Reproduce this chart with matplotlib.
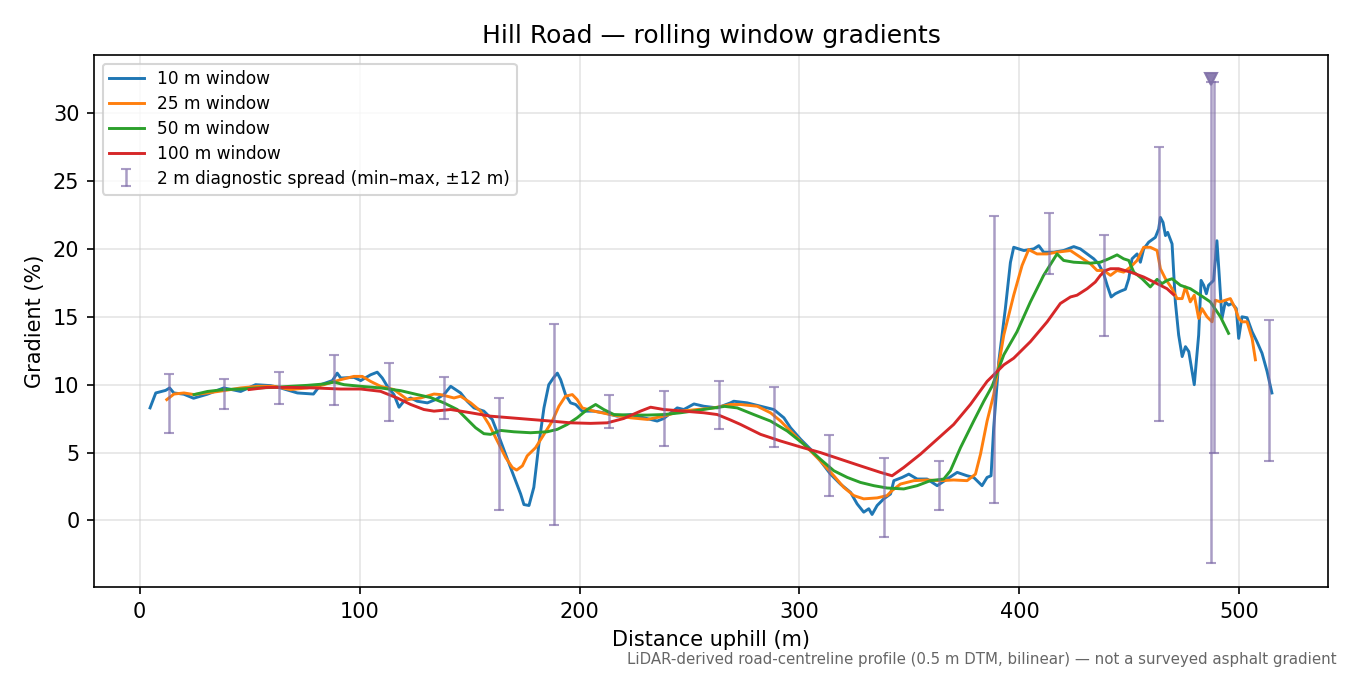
import numpy as np
import matplotlib
matplotlib.use("Agg")
import matplotlib.pyplot as plt

# 10 m window
w10_x = [4.7, 7.3, 11.8, 13.6, 15.5, 20.0, 24.5, 30.8, 38.2, 45.9, 52.7, 59.5, 64.0, 71.7, 79.0,
         82.3, 87.6, 89.8, 91.4, 97.4, 100.5, 105.0, 108.0, 110.3, 112.6, 115.6, 117.9, 120.1,
         123.2, 126.2, 130.8, 134.5, 138.3, 141.4, 145.9, 148.9, 152.0, 156.5, 160.3, 164.1,
         168.6, 173.2, 174.7, 177.0, 179.2, 181.5, 183.8, 186.0, 188.3, 189.9, 191.4, 193.6,
         195.9, 198.2, 201.2, 206.5, 211.0, 217.1, 223.2, 229.2, 235.3, 238.3, 244.4, 247.4,
         252.0, 256.5, 262.6, 268.6, 270.1, 276.2, 282.3, 288.3, 292.9, 295.9, 300.5, 305.0,
         309.5, 314.1, 318.6, 323.2, 326.2, 329.2, 331.5, 333.0, 335.3, 338.3, 341.4, 342.9,
         346.7, 349.7, 353.5, 358.0, 362.6, 367.1, 371.7, 376.2, 379.2, 383.0, 385.3, 387.1,
         388.3, 390.6, 393.6, 395.9, 397.4, 402.0, 406.5, 408.8, 411.0, 415.6, 420.1, 424.7,
         427.7, 430.8, 433.8, 436.0, 438.3, 439.9, 441.7, 443.6, 445.9, 448.2, 449.7, 451.2,
         453.5, 455.0, 456.5, 458.8, 461.8, 463.3, 464.1, 465.3, 466.4, 467.4, 469.4, 470.9,
         472.4, 474.0, 475.5, 477.0, 479.5, 481.5, 482.6, 483.8, 485.0, 486.0, 488.3, 489.8,
         491.0, 492.1, 493.6, 495.1, 496.7, 498.6, 499.7, 501.2, 503.5, 505.8, 508.0, 510.3,
         512.6, 514.8]
w10_y = [8.29, 9.39, 9.58, 9.76, 9.39, 9.3, 9.0, 9.3, 9.76, 9.5, 10.0, 9.93, 9.76, 9.39, 9.31,
         10.0, 10.3, 10.85, 10.49, 10.54, 10.3, 10.73, 10.92, 10.49, 9.88, 9.27, 8.34, 8.78,
         9.02, 8.78, 8.66, 8.9, 9.27, 9.88, 9.39, 8.78, 8.29, 8.05, 7.44, 5.85,
         3.9, 1.95, 1.17, 1.1, 2.44, 5.61, 8.29, 10.0, 10.54, 10.85, 10.37, 9.27,
         8.66, 8.54, 8.05, 8.05, 7.93, 7.68, 7.8, 7.56, 7.32, 7.51, 8.29, 8.17,
         8.58, 8.41, 8.29, 8.66, 8.78, 8.66, 8.41, 8.17, 7.56, 6.83, 5.98, 5.25,
         4.39, 3.41, 2.68, 2.07, 1.22, 0.61, 0.86, 0.44, 1.1, 1.59, 1.95, 2.93,
         3.17, 3.41, 3.05, 3.05, 2.56, 3.05, 3.54, 3.29, 3.17, 2.56, 3.17, 3.29,
         6.83, 11.7, 15.6, 19.0, 20.12, 19.88, 20.0, 20.24, 19.76, 19.76, 19.88, 20.17,
         20.0, 19.63, 19.27, 18.9, 18.17, 17.32, 16.46, 16.7, 16.88, 17.03, 17.8, 19.27,
         19.63, 19.02, 20.0, 20.5, 20.85, 21.46, 22.32, 21.95, 20.98, 21.22, 20.37, 16.1,
         13.66, 12.07, 12.8, 12.44, 10.0, 13.66, 17.68, 17.32, 16.7, 17.32, 17.68, 20.6,
         17.68, 14.88, 16.1, 15.86, 15.98, 15.61, 13.41, 15.0, 14.93, 13.9, 13.17, 12.32,
         10.98, 9.39]

# 25 m window
w25_x = [12.3, 15.6, 20.1, 24.7, 30.8, 38.3, 45.9, 53.5, 61.0, 68.6, 76.2, 83.8, 91.4, 97.4,
         101.2, 105.0, 109.5, 115.6, 121.7, 127.7, 133.8, 136.8, 142.9, 145.9, 150.5, 155.0,
         158.8, 162.6, 166.4, 169.4, 171.4, 174.0, 176.2, 180.0, 183.8, 187.6, 190.6, 193.6,
         196.7, 198.9, 201.2, 206.5, 214.1, 223.2, 230.8, 238.3, 245.9, 253.5, 261.0, 268.6,
         273.2, 280.8, 286.8, 291.4, 297.4, 303.5, 309.5, 315.6, 320.1, 324.7, 329.2, 335.3,
         339.8, 342.1, 345.9, 352.0, 358.0, 364.1, 370.1, 376.2, 380.0, 382.3, 385.3, 388.3,
         392.9, 397.4, 401.2, 404.2, 408.0, 412.6, 417.1, 423.2, 427.7, 432.3, 435.3, 438.3,
         441.4, 444.4, 447.4, 450.5, 453.5, 456.5, 459.5, 462.6, 464.1, 466.4, 469.4, 471.7,
         474.0, 475.5, 477.7, 479.5, 481.5, 483.0, 485.3, 487.6, 489.1, 491.4, 493.6, 495.9,
         498.2, 499.7, 501.2, 503.5, 505.8, 507.3]
w25_y = [8.9, 9.31, 9.39, 9.27, 9.39, 9.56, 9.76, 9.88, 9.88, 9.64, 9.76, 10.0, 10.37, 10.61,
         10.61, 10.24, 9.88, 9.64, 8.9, 9.02, 9.31, 9.27, 9.02, 9.15, 8.66, 8.05,
         7.07, 5.85, 4.63, 3.9, 3.71, 4.02, 4.76, 5.36, 6.34, 7.32, 8.41, 9.15,
         9.27, 8.9, 8.29, 8.05, 7.8, 7.56, 7.44, 7.68, 8.05, 8.17, 8.29, 8.54,
         8.54, 8.41, 7.93, 7.32, 6.34, 5.36, 4.39, 3.29, 2.44, 1.83, 1.59, 1.66,
         1.83, 2.2, 2.68, 2.93, 2.98, 2.93, 2.98, 2.93, 3.41, 4.88, 7.32, 9.27,
         13.66, 16.59, 18.78, 19.95, 19.63, 19.63, 19.76, 19.88, 19.39, 18.9, 18.41, 18.41,
         18.05, 18.41, 18.29, 18.66, 19.15, 20.12, 20.12, 19.88, 18.54, 17.8, 17.07, 16.34,
         16.34, 17.2, 16.1, 16.59, 14.88, 15.6, 15.0, 14.63, 16.22, 16.1, 16.22, 16.34,
         15.6, 14.88, 14.63, 14.63, 13.41, 11.83]

# 50 m window
w50_x = [24.7, 30.8, 38.3, 45.9, 53.5, 61.0, 68.6, 76.2, 83.8, 88.3, 92.9, 100.5, 109.5, 118.6,
         126.2, 132.3, 138.3, 144.4, 148.9, 152.7, 156.5, 159.5, 164.1, 170.1, 177.7, 185.3,
         189.9, 194.4, 198.9, 203.5, 207.3, 211.0, 215.6, 223.2, 230.8, 238.3, 245.9, 253.5,
         261.0, 266.0, 271.7, 279.2, 286.8, 294.4, 302.0, 309.5, 315.6, 321.7, 327.7, 333.8,
         339.8, 347.4, 353.5, 359.5, 365.6, 368.6, 373.2, 379.2, 383.8, 387.6, 392.9, 398.9,
         405.0, 411.0, 417.1, 420.1, 424.7, 432.3, 436.8, 440.6, 444.4, 447.4, 449.7, 452.0,
         455.8, 459.5, 462.6, 464.8, 467.1, 469.4, 473.2, 477.7, 482.3, 486.8, 491.4, 495.1]
w50_y = [9.27, 9.5, 9.64, 9.68, 9.76, 9.8, 9.88, 9.95, 10.05, 10.19, 10.0, 9.88, 9.76, 9.56,
         9.27, 9.05, 8.66, 8.17, 7.44, 6.83, 6.39, 6.34, 6.63, 6.53, 6.46, 6.53,
         6.71, 7.07, 7.56, 8.17, 8.54, 8.17, 7.8, 7.76, 7.76, 7.8, 7.93, 8.1,
         8.29, 8.4, 8.29, 7.8, 7.32, 6.59, 5.61, 4.51, 3.66, 3.17, 2.8, 2.56,
         2.39, 2.32, 2.56, 2.93, 3.05, 3.66, 5.36, 7.32, 8.78, 9.9, 12.2, 13.9,
         16.1, 18.05, 19.63, 19.15, 19.02, 18.95, 19.02, 19.27, 19.56, 19.27, 19.15, 18.29,
         17.8, 17.2, 17.76, 17.44, 17.68, 17.8, 17.32, 17.07, 16.59, 16.1, 15.0, 13.78]

# 100 m window
w100_x = [49.7, 58.0, 68.6, 79.2, 91.4, 100.5, 109.5, 117.1, 123.2, 129.2, 133.8, 141.4, 150.5,
          159.5, 168.6, 177.7, 186.8, 195.9, 205.0, 212.6, 220.1, 227.7, 232.3, 238.3, 247.4,
          256.5, 262.6, 268.6, 273.2, 282.3, 291.4, 300.5, 309.5, 318.6, 327.7, 336.8, 342.1,
          347.4, 355.0, 362.6, 370.1, 377.7, 385.3, 392.9, 397.4, 405.0, 412.6, 418.6, 423.2,
          426.2, 430.8, 434.5, 436.8, 439.1, 441.4, 445.1, 450.5, 456.5, 462.6, 467.1, 470.1]
w100_y = [9.64, 9.8, 9.8, 9.76, 9.68, 9.68, 9.51, 9.02, 8.54, 8.17, 8.05, 8.17, 7.93,
          7.68, 7.56, 7.44, 7.32, 7.19, 7.15, 7.19, 7.51, 8.05, 8.34, 8.17, 8.05,
          7.93, 7.8, 7.4, 7.07, 6.34, 5.85, 5.41, 5.0, 4.51, 4.02, 3.54, 3.29,
          3.9, 4.88, 5.98, 7.07, 8.54, 10.24, 11.46, 11.95, 13.17, 14.63, 15.98, 16.46,
          16.59, 17.07, 17.56, 18.05, 18.41, 18.54, 18.54, 18.29, 17.93, 17.44, 17.07, 16.63]

# 2 m diagnostic spread, min and max at sample points
spread_x = [13.5, 38.5, 63.5, 88.5, 113.5, 138.5, 163.5, 188.5, 213.5, 238.5, 263.5, 288.5,
            313.5, 338.5, 363.5, 388.5, 413.5, 438.5, 463.5, 487.0, 488.5, 513.5]
spread_min = [6.46, 8.22, 8.59, 8.51, 7.32, 7.46, 0.76, -0.37, 6.83, 5.51, 6.76, 5.44,
              1.78, -1.22, 0.78, 1.32, 18.17, 13.56, 7.34, -3.12, 5.0, 4.41]
spread_max = [10.78, 10.41, 10.93, 12.22, 11.56, 10.54, 9.02, 14.44, 9.22, 9.51, 10.24, 9.8,
              6.32, 4.61, 4.39, 22.46, 22.61, 21.0, 27.51, 32.3, 32.3, 14.73]
clipped_x = [487.0]
clipped_y = [32.5]

fig = plt.figure(figsize=(9, 4.5), dpi=150)
ax = fig.add_axes([0.0696, 0.1304, 0.9141, 0.7881])

ax.plot(w10_x, w10_y, color="tab:blue", lw=1.4, label="10 m window")
ax.plot(w25_x, w25_y, color="tab:orange", lw=1.4, label="25 m window")
ax.plot(w50_x, w50_y, color="tab:green", lw=1.4, label="50 m window")
ax.plot(w100_x, w100_y, color="tab:red", lw=1.4, label="100 m window")

mid = [(a + b) / 2 for a, b in zip(spread_min, spread_max)]
err = [[m - lo for m, lo in zip(mid, spread_min)], [hi - m for m, hi in zip(mid, spread_max)]]
ax.errorbar(spread_x, mid, yerr=err, fmt="none", ecolor="#7b68a6", alpha=0.65,
            elinewidth=1.2, capsize=2.5, capthick=1.0,
            label="2 m diagnostic spread (min–max, ±12 m)")
ax.plot(clipped_x, clipped_y, "v", color="#8070a8", ms=6, alpha=0.9)

ax.set_title("Hill Road — rolling window gradients", fontsize=12)
ax.set_xlabel("Distance uphill (m)", fontsize=10)
ax.set_ylabel("Gradient (%)", fontsize=10)
ax.tick_params(labelsize=10)
ax.grid(True, color="#cccccc", alpha=0.5, lw=0.8)
ax.legend(loc="upper left", fontsize=8.2, labelspacing=0.4)

fig.text(0.99, 0.012, "LiDAR-derived road-centreline profile (0.5 m DTM, bilinear) — "
         "not a surveyed asphalt gradient", ha="right", va="bottom", fontsize=7.2, color="#666666")

fig.savefig("out.png", dpi=150)
